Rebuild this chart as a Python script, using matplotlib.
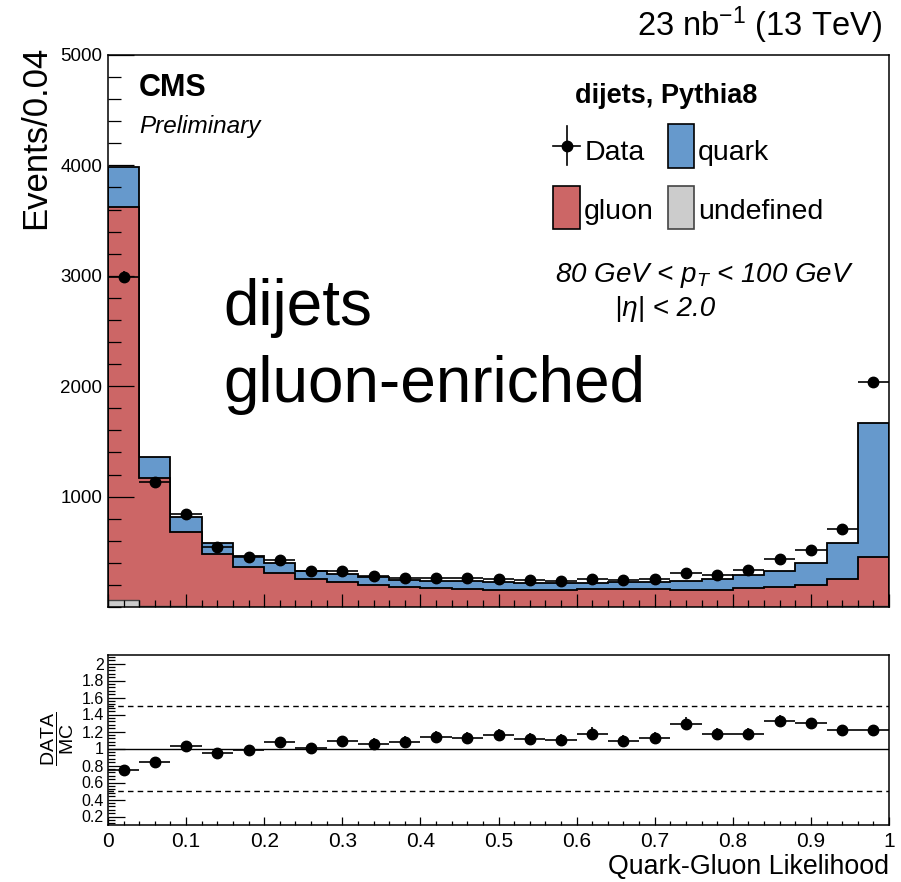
import numpy as np
import matplotlib
matplotlib.use("Agg")
import matplotlib.pyplot as plt
from matplotlib.ticker import MultipleLocator, FixedLocator, FuncFormatter
from matplotlib.patches import Rectangle
from matplotlib.lines import Line2D

plt.rcParams["font.family"] = ["Liberation Sans", "DejaVu Sans"]
plt.rcParams["mathtext.fontset"] = "custom"
plt.rcParams["mathtext.rm"] = "Liberation Sans"
plt.rcParams["mathtext.it"] = "Liberation Sans:italic"
plt.rcParams["mathtext.bf"] = "Liberation Sans:bold"

# ---- histogram contents (events per 0.04 bin of the quark-gluon likelihood) ----
bin_edges = np.round(np.arange(0.0, 1.0001, 0.04), 2)
undefined = [60, 12, 6, 4, 4, 3, 3, 3, 3, 3, 3, 3, 3, 3, 3, 3, 3, 3, 3, 3, 3, 3, 4, 5, 8]
gluon = [3566, 1159, 671, 473, 361, 307, 252, 225, 194, 182, 165, 157, 154,
         150, 147, 159, 160, 157, 149, 152, 166, 175, 195, 246, 442]
quark = [357, 185, 135, 103, 93, 86, 72, 72, 71, 63, 66, 72, 65,
         64, 64, 54, 59, 68, 84, 96, 117, 148, 199, 327, 1220]
data = [2990, 1135, 840, 548, 450, 426, 330, 327, 283, 267, 265, 260, 257,
        242, 236, 254, 242, 257, 305, 293, 335, 432, 516, 707, 2041]

main_yticks = [1000, 2000, 3000, 4000, 5000]
ratio_yticks = [0.2, 0.4, 0.6, 0.8, 1.0, 1.2, 1.4, 1.6, 1.8, 2.0]
ratio_xticks = [0.0, 0.1, 0.2, 0.3, 0.4, 0.5, 0.6, 0.7, 0.8, 0.9, 1.0]

C_QUARK = "#6699cc"
C_GLUON = "#cc6666"
C_UNDEF = "#cccccc"

W, H = 901, 882


def box(l, t, r, b):
    return [l / W, 1 - b / H, (r - l) / W, (b - t) / H]


def fx(x):
    return x / W


def fy(y):
    return 1 - y / H


und = np.array(undefined, float)
glu = np.array(gluon, float)
qrk = np.array(quark, float)
dat = np.array(data, float)
centers = 0.5 * (bin_edges[:-1] + bin_edges[1:])
half_w = 0.5 * np.diff(bin_edges)
mc_total = und + glu + qrk
ratio = dat / mc_total
ratio_err = np.sqrt(dat) / mc_total

fig = plt.figure(figsize=(W / 100, H / 100), dpi=100)
ax = fig.add_axes(box(108, 55, 889, 607))
axr = fig.add_axes(box(108, 655, 889, 825))

# ---- stacked MC ----
ax.stairs(mc_total, bin_edges, fill=True, facecolor=C_QUARK, edgecolor="black", lw=1.3)
ax.stairs(und + glu, bin_edges, fill=True, facecolor=C_GLUON, edgecolor="black", lw=1.3)
ax.stairs(und, bin_edges, fill=True, facecolor=C_UNDEF, edgecolor="#444444", lw=1.0)

ax.errorbar(centers, dat, xerr=half_w, yerr=np.sqrt(dat), fmt="o", color="black",
            ms=7.5, elinewidth=1.2, capsize=0, zorder=4)

ax.set_xlim(0, 1)
ax.set_ylim(0, 5000)
ax.yaxis.set_major_locator(FixedLocator(main_yticks))
ax.yaxis.set_minor_locator(MultipleLocator(200))
ax.xaxis.set_major_locator(MultipleLocator(0.1))
ax.xaxis.set_minor_locator(MultipleLocator(0.02))
ax.tick_params(which="both", direction="in", width=0.9, top=False, right=False)
ax.tick_params(axis="y", which="major", length=19, labelsize=13.5, pad=4)
ax.tick_params(axis="y", which="minor", length=9.5)
ax.tick_params(axis="x", which="major", length=9.4, labelbottom=False)
ax.tick_params(axis="x", which="minor", length=4.8)
for sp in ax.spines.values():
    sp.set_linewidth(1.1)

# ---- ratio panel ----
axr.axhline(1.0, color="black", lw=1.0)
axr.axhline(0.5, color="black", lw=1.0, ls=(0, (4, 3)))
axr.axhline(1.5, color="black", lw=1.0, ls=(0, (4, 3)))
axr.errorbar(centers, ratio, xerr=half_w, yerr=ratio_err, fmt="o", color="black",
             ms=7.5, elinewidth=1.2, capsize=0, zorder=4)
axr.set_xlim(0, 1)
axr.set_ylim(0.1, 2.1)
axr.yaxis.set_major_locator(FixedLocator(ratio_yticks))
axr.yaxis.set_minor_locator(MultipleLocator(0.04))
axr.xaxis.set_major_locator(FixedLocator(ratio_xticks))
axr.xaxis.set_minor_locator(MultipleLocator(0.02))
fmt = FuncFormatter(lambda v, p: "%g" % round(v, 2))
axr.yaxis.set_major_formatter(fmt)
axr.xaxis.set_major_formatter(fmt)
axr.tick_params(which="both", direction="in", width=0.9, top=False, right=False)
axr.tick_params(axis="y", which="major", length=12.3, labelsize=11.5, pad=3)
axr.tick_params(axis="y", which="minor", length=5)
axr.tick_params(axis="x", which="major", length=5.5, labelsize=15, pad=5)
axr.tick_params(axis="x", which="minor", length=2.6)
for sp in axr.spines.values():
    sp.set_linewidth(1.1)

# ---- axis titles ----
fig.text(fx(45), fy(46), "Events/0.04", rotation=90, rotation_mode="anchor",
         ha="right", va="baseline", fontsize=25)
fig.text(fx(58), fy(739), r"$\dfrac{\mathrm{DATA}}{\mathrm{MC}}$", rotation=90,
         ha="center", va="center", fontsize=14)
fig.text(fx(889), fy(874), "Quark-Gluon Likelihood", ha="right", va="baseline",
         fontsize=19.3)

# ---- labels in the main panel ----
fig.text(fx(882), fy(36), r"23 nb$^{\mathrm{-1}}$ (13 TeV)", ha="right",
         va="baseline", fontsize=23.5)
fig.text(fx(139), fy(96), "CMS", fontweight="bold", fontsize=22, va="baseline")
fig.text(fx(139), fy(133), "Preliminary", style="italic", fontsize=17.5, va="baseline")
fig.text(fx(223), fy(325), "dijets", fontsize=46, va="baseline")
fig.text(fx(223), fy(402), "gluon-enriched", fontsize=46, va="baseline")

# ---- legend ----
fig.text(fx(575), fy(103), "dijets, Pythia8", fontweight="bold", fontsize=19.5,
         va="baseline")
fig.add_artist(Line2D([fx(553), fx(580)], [fy(146), fy(146)], color="black", lw=1.2))
fig.add_artist(Line2D([fx(566.5), fx(566.5)], [fy(126), fy(165)], color="black", lw=1.2))
fig.add_artist(Line2D([fx(566.5)], [fy(146)], marker="o", ms=7.5, color="black"))
fig.text(fx(585), fy(160), "Data", fontsize=20.5, va="baseline")

legend_boxes = [
    (667.7, 124.3, C_QUARK, "black", "quark", 160),
    (553.3, 185.7, C_GLUON, "black", "gluon", 219),
    (667.7, 185.7, C_UNDEF, "#444444", "undefined", 219),
]
for (lx, ty, fc, ec, lab, base) in legend_boxes:
    fig.add_artist(Rectangle((fx(lx), fy(ty + 43.6)), 26.3 / W, 43.6 / H,
                             facecolor=fc, edgecolor=ec, lw=1.2,
                             transform=fig.transFigure))
    fig.text(fx(lx + 30.5), fy(base), lab, fontsize=20.5, va="baseline")

fig.text(fx(555), fy(282), r"80 GeV < $p_{T}$ < 100 GeV", style="italic",
         fontsize=20, va="baseline")
fig.text(fx(615), fy(316), "|η| < 2.0", style="italic", fontsize=20, va="baseline")

fig.savefig("out.png", dpi=100)
